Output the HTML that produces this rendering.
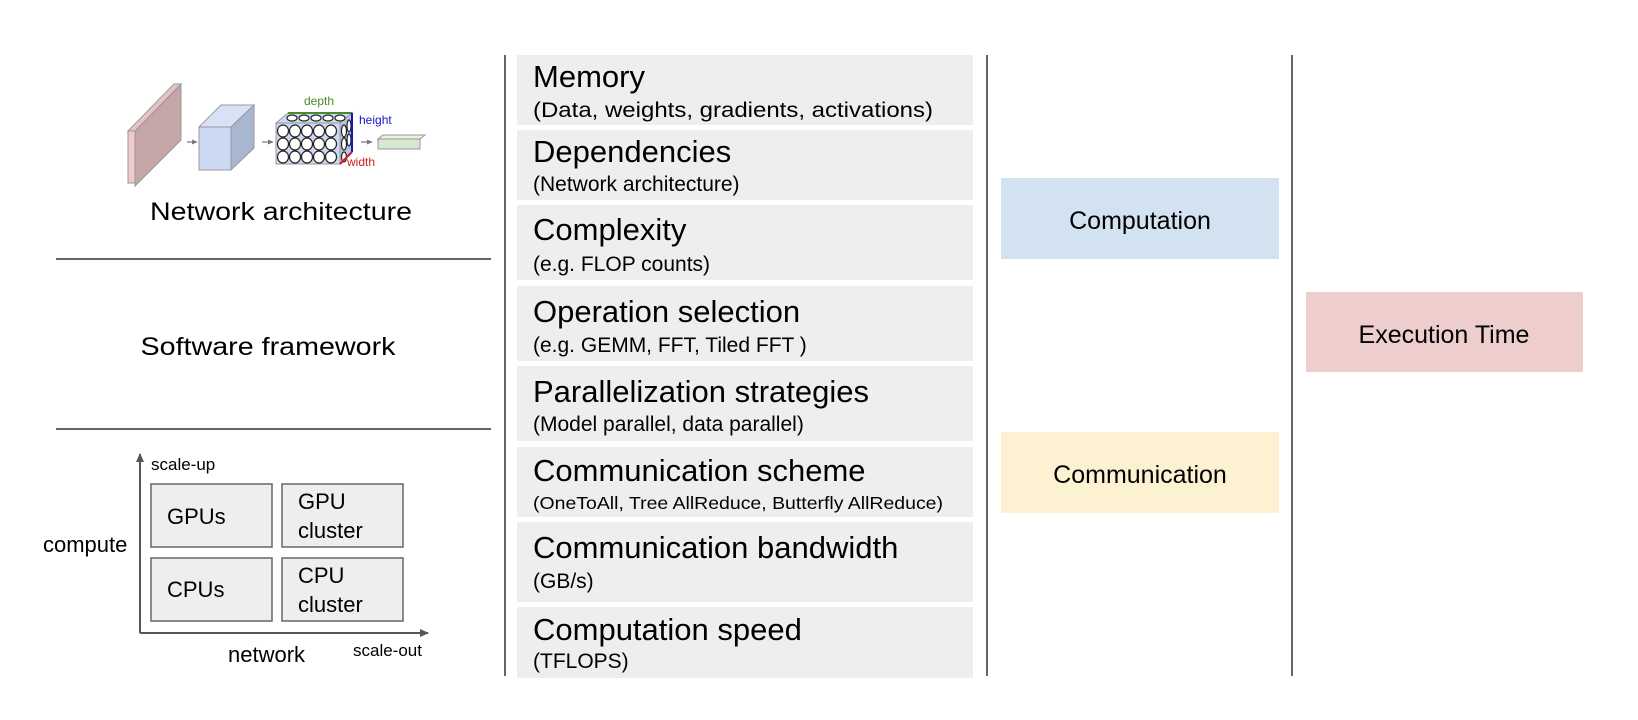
<!DOCTYPE html>
<html><head><meta charset="utf-8"><style>
html,body{margin:0;padding:0;background:#fff;}
svg{display:block;font-family:"Liberation Sans",Arial,sans-serif;}
</style></head><body>
<svg width="1638" height="720" viewBox="0 0 1638 720" xmlns="http://www.w3.org/2000/svg">
<defs>
<marker id="ah" markerWidth="10" markerHeight="10" refX="8" refY="5" orient="auto" markerUnits="userSpaceOnUse"><path d="M0,1 L9,5 L0,9 z" fill="#555"/></marker>
<marker id="sa" markerWidth="6" markerHeight="6" refX="5" refY="3" orient="auto" markerUnits="userSpaceOnUse"><path d="M0,0.5 L5.5,3 L0,5.5 z" fill="#777"/></marker>
</defs>
<!-- vertical divider lines -->
<g stroke="#666" stroke-width="2">
<line x1="505" y1="55" x2="505" y2="676"/>
<line x1="987" y1="55" x2="987" y2="676"/>
<line x1="1292" y1="55" x2="1292" y2="676"/>
<line x1="56" y1="259" x2="491" y2="259"/>
<line x1="56" y1="429" x2="491" y2="429"/>
</g>

<!-- network illustration -->
<g stroke="#999" stroke-width="1">
<polygon points="135,131 181,84 181,140 135,186" fill="#c4a5a8"/>
<polygon points="128,131 174,84 181,84 135,131" fill="#e6c4c6"/>
<rect x="128" y="131" width="7" height="52" fill="#efc9cb"/>
<polygon points="199,127 221,105 254,105 231,127" fill="#d8e2f5"/>
<polygon points="231,127 254,105 254,148 231,170" fill="#a9b6d0"/>
<rect x="199" y="127" width="32" height="43" fill="#cdd9f3"/>
<polygon points="276,123 288,113 352,113 340,123" fill="#cdd9f3"/>
<polygon points="340,123 352,113 352,152 340,164" fill="#b8c4dc"/>
<rect x="276" y="123" width="64" height="41" fill="#cdd9f3"/>
<polygon points="378,139 383,135 425,135 420,139" fill="#e8f2e2"/>
<rect x="378" y="139" width="42" height="10" fill="#d5e8d0"/>
</g>
<g fill="#fff" stroke="#222" stroke-width="1.2">
<ellipse cx="283" cy="131" rx="5.5" ry="6"/><ellipse cx="295" cy="131" rx="5.5" ry="6"/><ellipse cx="307" cy="131" rx="5.5" ry="6"/><ellipse cx="319" cy="131" rx="5.5" ry="6"/><ellipse cx="331" cy="131" rx="5.5" ry="6"/>
<ellipse cx="283" cy="144" rx="5.5" ry="6"/><ellipse cx="295" cy="144" rx="5.5" ry="6"/><ellipse cx="307" cy="144" rx="5.5" ry="6"/><ellipse cx="319" cy="144" rx="5.5" ry="6"/><ellipse cx="331" cy="144" rx="5.5" ry="6"/>
<ellipse cx="283" cy="157" rx="5.5" ry="6"/><ellipse cx="295" cy="157" rx="5.5" ry="6"/><ellipse cx="307" cy="157" rx="5.5" ry="6"/><ellipse cx="319" cy="157" rx="5.5" ry="6"/><ellipse cx="331" cy="157" rx="5.5" ry="6"/>
<ellipse cx="292" cy="118" rx="5" ry="3"/><ellipse cx="304" cy="118" rx="5" ry="3"/><ellipse cx="316" cy="118" rx="5" ry="3"/><ellipse cx="328" cy="118" rx="5" ry="3"/><ellipse cx="340" cy="118" rx="5" ry="3"/>
<ellipse cx="344" cy="131" rx="2.5" ry="6"/><ellipse cx="344" cy="144" rx="2.5" ry="6"/><ellipse cx="344" cy="157" rx="2.5" ry="5"/>
<ellipse cx="349" cy="126" rx="2" ry="6"/><ellipse cx="349" cy="140" rx="2" ry="6"/>
</g>
<line x1="288" y1="113" x2="352" y2="113" stroke="#4a8a2a" stroke-width="2"/>
<line x1="352" y1="113" x2="352" y2="152" stroke="#1515c8" stroke-width="2"/>
<line x1="340" y1="164" x2="352" y2="152" stroke="#d02020" stroke-width="2"/>
<text x="304" y="105" font-size="12" fill="#4a8a2a">depth</text>
<text x="359" y="124" font-size="12" fill="#1515c8">height</text>
<text x="347" y="166" font-size="12" fill="#d02020">width</text>
<g stroke="#777" stroke-width="1.2">
<line x1="187" y1="142" x2="197" y2="142" marker-end="url(#sa)"/>
<line x1="262" y1="142" x2="273" y2="142" marker-end="url(#sa)"/>
<line x1="361" y1="142" x2="372" y2="142" marker-end="url(#sa)"/>
</g>

<text x="281" y="220" font-size="25" text-anchor="middle" textLength="262" lengthAdjust="spacingAndGlyphs">Network architecture</text>
<text x="268" y="355" font-size="25" text-anchor="middle" textLength="255" lengthAdjust="spacingAndGlyphs">Software framework</text>

<!-- grid -->
<g stroke="#555" stroke-width="2" fill="none">
<line x1="140" y1="633" x2="140" y2="454" marker-end="url(#ah)"/>
<line x1="140" y1="633" x2="428" y2="633" marker-end="url(#ah)"/>
</g>
<g fill="#eeeeee" stroke="#666" stroke-width="1.5">
<rect x="151" y="484" width="121" height="63"/>
<rect x="282" y="484" width="121" height="63"/>
<rect x="151" y="558" width="121" height="63"/>
<rect x="282" y="558" width="121" height="63"/>
</g>
<g font-size="22">
<text x="167" y="524">GPUs</text>
<text x="298" y="509">GPU</text><text x="298" y="538">cluster</text>
<text x="167" y="597">CPUs</text>
<text x="298" y="583">CPU</text><text x="298" y="612">cluster</text>
<text x="43" y="552">compute</text>
<text x="228" y="662">network</text>
</g>
<text x="151" y="470" font-size="17">scale-up</text>
<text x="353" y="656" font-size="17">scale-out</text>

<!-- middle stack -->
<g fill="#eeeeee">
<rect x="517" y="55" width="456" height="70"/>
<rect x="517" y="130" width="456" height="70"/>
<rect x="517" y="205" width="456" height="75"/>
<rect x="517" y="286" width="456" height="75"/>
<rect x="517" y="366" width="456" height="75"/>
<rect x="517" y="447" width="456" height="70"/>
<rect x="517" y="522" width="456" height="80"/>
<rect x="517" y="607" width="456" height="71"/>
</g>
<g font-size="31">
<text x="533" y="87">Memory</text>
<text x="533" y="162">Dependencies</text>
<text x="533" y="240">Complexity</text>
<text x="533" y="322">Operation selection</text>
<text x="533" y="402">Parallelization strategies</text>
<text x="533" y="481">Communication scheme</text>
<text x="533" y="558">Communication bandwidth</text>
<text x="533" y="640">Computation speed</text>
</g>
<g font-size="21">
<text x="533" y="117" textLength="400" lengthAdjust="spacingAndGlyphs">(Data, weights, gradients, activations)</text>
<text x="533" y="191">(Network architecture)</text>
<text x="533" y="271">(e.g. FLOP counts)</text>
<text x="533" y="352">(e.g. GEMM, FFT, Tiled FFT )</text>
<text x="533" y="431">(Model parallel, data parallel)</text>
<text x="533" y="588">(GB/s)</text>
<text x="533" y="668">(TFLOPS)</text>
</g>
<text x="533" y="509" font-size="17.5" textLength="410" lengthAdjust="spacingAndGlyphs">(OneToAll, Tree AllReduce, Butterfly AllReduce)</text>

<!-- right boxes -->
<rect x="1001" y="178" width="278" height="81" fill="#d3e2f1"/>
<rect x="1001" y="432" width="278" height="81" fill="#fcf1d1"/>
<rect x="1306" y="292" width="277" height="80" fill="#eecdcd"/>
<g font-size="25" text-anchor="middle">
<text x="1140" y="229">Computation</text>
<text x="1140" y="483">Communication</text>
<text x="1444" y="343">Execution Time</text>
</g>
</svg>
</body></html>
